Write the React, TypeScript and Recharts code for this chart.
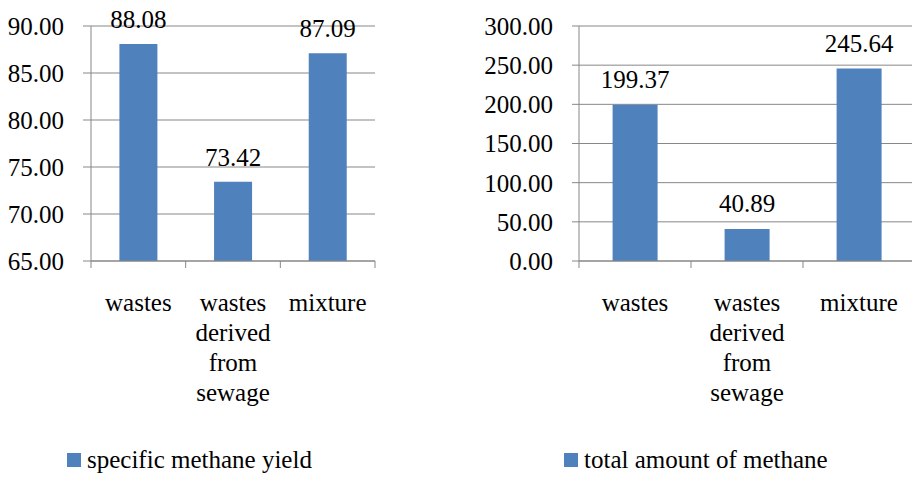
import { BarChart, Bar, XAxis, YAxis, CartesianGrid, Legend, LabelList } from "recharts";

const categories = ["wastes", "wastes derived from sewage", "mixture"];
const specificYield = [88.08, 73.42, 87.09];
const totalMethane = [199.37, 40.89, 245.64];
const yieldTicks = [65, 70, 75, 80, 85, 90];
const totalTicks = [0, 50, 100, 150, 200, 250, 300];

const FONT = "Liberation Serif, Tinos, Times New Roman, DejaVu Serif, serif";
const GRID = "#878787";
const BLUE = "#4F81BD";

const leftData = categories.map((name, i) => ({ name, value: specificYield[i] }));
const rightData = categories.map((name, i) => ({ name, value: totalMethane[i] }));

const CategoryTick = (props: any) => {
    const { x, y, payload, index, visibleTicksCount } = props;
    const half = payload.offset || 0;
    const words = String(payload.value).split(" ");
    return (
        <g>
            <line x1={x - half} x2={x - half} y1={y} y2={y + 7} stroke={GRID} />
            {index === visibleTicksCount - 1 && (
                <line x1={x + half} x2={x + half} y1={y} y2={y + 7} stroke={GRID} />
            )}
            <text x={x} y={y + 50} textAnchor="middle" fontSize={25} style={{ fontFamily: FONT }} fill="#000">
                {words.map((w, i) => (
                    <tspan key={i} x={x} dy={i === 0 ? 0 : 30}>{w}</tspan>
                ))}
            </text>
        </g>
    );
};

const makeLegend = (label: string, left: number) => () => (
    <div style={{ position: "relative", height: 40, fontFamily: FONT }}>
        <span style={{ position: "absolute", left, top: 16, width: 14, height: 14, background: BLUE }} />
        <span style={{ position: "absolute", left: left + 20, top: 10, fontSize: 25, lineHeight: "25px", color: "#000", whiteSpace: "nowrap" }}>
            {label}
        </span>
    </div>
);

const fmt = (v: number) => v.toFixed(2);

export default function App() {
    return (
        <div style={{ position: "absolute", left: 0, top: 0, width: 912, height: 477, overflow: "hidden", background: "#fff", fontFamily: FONT }}>
            <div style={{ position: "absolute", left: 0, top: 0 }}>
                <BarChart width={400} height={477} data={leftData} margin={{ top: 26, right: 25, left: 0, bottom: 0 }} barCategoryGap="30%" style={{ fontFamily: FONT }}>
                    <CartesianGrid vertical={false} stroke={GRID} />
                    <XAxis dataKey="name" height={176} tickSize={0} tickMargin={0} tickLine={false} stroke={GRID} interval={0} tick={<CategoryTick />} />
                    <YAxis domain={[65, 90]} ticks={yieldTicks} width={91} tickSize={8} tickMargin={19} stroke={GRID}
                        tickFormatter={fmt} tick={{ fill: "#000", fontSize: 25, style: { fontFamily: FONT } }} interval={0} />
                    <Legend verticalAlign="bottom" align="left" content={makeLegend("specific methane yield", 67)} />
                    <Bar dataKey="value" fill={BLUE} isAnimationActive={false}>
                        <LabelList dataKey="value" position="top" offset={16} formatter={(v: any) => fmt(Number(v))}
                            style={{ fill: "#000", fontSize: 25, fontFamily: FONT }} />
                    </Bar>
                </BarChart>
            </div>
            <div style={{ position: "absolute", left: 470, top: 0 }}>
                <BarChart width={445} height={477} data={rightData} margin={{ top: 26, right: 0, left: 0, bottom: 0 }} barCategoryGap="30%" style={{ fontFamily: FONT }}>
                    <CartesianGrid vertical={false} stroke={GRID} />
                    <XAxis dataKey="name" height={176} tickSize={0} tickMargin={0} tickLine={false} stroke={GRID} interval={0} tick={<CategoryTick />} />
                    <YAxis domain={[0, 300]} ticks={totalTicks} width={109} tickSize={7} tickMargin={19} stroke={GRID}
                        tickFormatter={fmt} tick={{ fill: "#000", fontSize: 25, style: { fontFamily: FONT } }} interval={0} />
                    <Legend verticalAlign="bottom" align="left" content={makeLegend("total amount of methane", 94)} />
                    <Bar dataKey="value" fill={BLUE} isAnimationActive={false}>
                        <LabelList dataKey="value" position="top" offset={17} formatter={(v: any) => fmt(Number(v))}
                            style={{ fill: "#000", fontSize: 25, fontFamily: FONT }} />
                    </Bar>
                </BarChart>
            </div>
        </div>
    );
}
